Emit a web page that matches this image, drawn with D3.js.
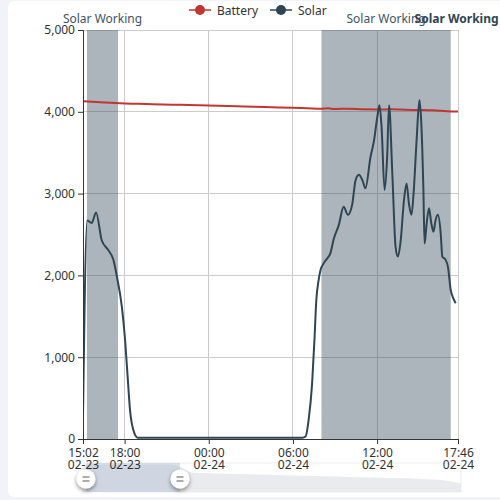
<!DOCTYPE html>
<html><head><meta charset="utf-8">
<script src="https://cdn.jsdelivr.net/npm/d3@7"></script>
<style>
html,body{margin:0;padding:0;background:#f2f3f8;}
svg{display:block;}
text{font-family:"Noto Sans",sans-serif;}
</style></head>
<body>
<svg id="chart" width="500" height="500"></svg>
<script>
// ---------- data ----------
const solarTimes = ["02-23 15:02","02-23 15:20","02-23 15:39","02-23 15:58","02-23 16:22","02-23 16:50","02-23 17:12","02-23 17:27","02-23 17:48","02-23 18:02","02-23 18:13","02-23 18:23","02-23 18:42","02-23 18:58","02-23 21:00","02-24 00:00","02-24 03:00","02-24 06:40","02-24 06:54","02-24 07:07","02-24 07:22","02-24 07:32","02-24 07:40","02-24 07:50","02-24 07:58","02-24 08:12","02-24 08:27","02-24 08:40","02-24 08:55","02-24 09:16","02-24 09:37","02-24 09:55","02-24 10:13","02-24 10:28","02-24 10:42","02-24 10:57","02-24 11:10","02-24 11:32","02-24 11:46","02-24 12:01","02-24 12:10","02-24 12:19","02-24 12:32","02-24 12:43","02-24 12:51","02-24 13:05","02-24 13:19","02-24 13:29","02-24 13:40","02-24 13:55","02-24 14:06","02-24 14:16","02-24 14:27","02-24 14:37","02-24 14:49","02-24 15:01","02-24 15:09","02-24 15:18","02-24 15:23","02-24 15:32","02-24 15:42","02-24 15:52","02-24 16:01","02-24 16:10","02-24 16:20","02-24 16:32","02-24 16:39","02-24 16:53","02-24 17:03","02-24 17:15","02-24 17:26","02-24 17:36"];
const solarValues = [280,2670,2640,2770,2430,2310,2190,1985,1620,1210,760,355,70,15,15,15,15,15,30,230,680,1210,1700,1945,2065,2150,2210,2270,2450,2615,2840,2740,2860,3165,3230,3165,3065,3450,3635,3940,4080,3820,3045,3450,4080,3250,2350,2230,2400,2920,3125,2880,2740,3045,3655,4145,3860,3045,2390,2635,2820,2635,2535,2675,2740,2515,2230,2190,2105,1820,1720,1660];

const batteryTimes = ["02-23 15:02","02-23 16:00","02-23 17:00","02-23 18:00","02-23 19:00","02-23 20:00","02-23 22:00","02-24 00:00","02-24 02:00","02-24 04:00","02-24 06:00","02-24 07:00","02-24 08:00","02-24 08:30","02-24 09:00","02-24 10:00","02-24 11:00","02-24 12:00","02-24 13:00","02-24 14:00","02-24 15:00","02-24 16:00","02-24 17:00","02-24 17:46"];
const batteryValues = [4130,4120,4110,4100,4097,4092,4085,4077,4068,4058,4048,4043,4036,4042,4035,4038,4030,4028,4030,4025,4022,4018,4008,4005];

const markAreaStarts = ["02-23 15:19","02-24 08:02","02-24 17:40"];
const markAreaEnds   = ["02-23 17:32","02-24 17:15","02-24 17:40"];
const markAreaLabels = ["Solar Working","Solar Working","Solar Working"];
const markAreaBold   = [false,false,true];

const xTickTimes  = ["02-23 15:02","02-23 18:00","02-24 00:00","02-24 06:00","02-24 12:00","02-24 17:46"];
const yTickValues = [0,1000,2000,3000,4000,5000];

const seriesNames  = ["Battery","Solar"];
const seriesColors = ["#c23531","#2f4554"];

// slider data shadow (relative heights 0..1 across the full range)
const shadowValues = [0.95,0.95,0.95,0.95,0.95,0.66,0.64,0.62,0.6,0.58,0.56,0.54,0.52,0.5,0.48,0.46,0.42,0.3];

// ---------- drawing ----------
const parse = d3.timeParse("%m-%d %H:%M");
const svg = d3.select("#chart");
const defs = svg.append("defs");

svg.append("rect").attr("x",8).attr("y",1).attr("width",500).attr("height",496)
  .attr("rx",6).attr("fill","#fff");

// data zoom slider (drawn first so axis labels sit over it)
const sL=83,sR=461,sT=463,sB=492;
const sx = d3.scaleLinear().domain([0,shadowValues.length-1]).range([sL,sR]);
const sy = d3.scaleLinear().domain([0,1]).range([sB,sT]);
const f = defs.append("filter").attr("id","sh").attr("x","-50%").attr("y","-50%").attr("width","200%").attr("height","200%");
f.append("feDropShadow").attr("dx",0).attr("dy",2).attr("stdDeviation",2).attr("flood-color","#000").attr("flood-opacity",0.45);
const sg = svg.append("g");
sg.append("rect").attr("x",sL).attr("y",sT).attr("width",sR-sL).attr("height",sB-sT)
  .attr("fill","none").attr("stroke","#eee");
sg.append("path").datum(shadowValues)
  .attr("d",d3.area().x((d,i)=>sx(i)).y0(sB).y1(d=>sy(d)).curve(d3.curveMonotoneX))
  .attr("fill","#e9ebee");
const h1=86,h2=180;
sg.append("rect").attr("x",h1).attr("y",sT).attr("width",h2-h1).attr("height",sB-sT)
  .attr("fill","#a7b7cc").attr("fill-opacity",0.4);

const L=83,R=458,T=30,B=439;
const x = d3.scaleTime().domain([parse(xTickTimes[0]), parse(xTickTimes[xTickTimes.length-1])]).range([L,R]);
const y = d3.scaleLinear().domain([0,5000]).range([B,T]);

// grid
const g = svg.append("g");
g.selectAll(".hg").data(yTickValues.filter(v=>v>0)).join("line")
  .attr("x1",L).attr("x2",R).attr("y1",d=>y(d)).attr("y2",d=>y(d))
  .attr("stroke","#ccc").attr("stroke-width",1).attr("shape-rendering","crispEdges");
g.selectAll(".vg").data(xTickTimes.slice(1)).join("line")
  .attr("x1",d=>x(parse(d))).attr("x2",d=>x(parse(d))).attr("y1",T).attr("y2",B)
  .attr("stroke","#ccc").attr("stroke-width",1).attr("shape-rendering","crispEdges");

// mark areas
const areas = markAreaStarts.map((s,i)=>({s:parse(s),e:parse(markAreaEnds[i]),label:markAreaLabels[i],bold:markAreaBold[i]}));
svg.append("g").selectAll("rect").data(areas).join("rect")
  .attr("x",d=>x(d.s)).attr("width",d=>Math.max(0,x(d.e)-x(d.s)))
  .attr("y",T).attr("height",B-T).attr("fill","#2f4554").attr("fill-opacity",0.4);
svg.append("g").selectAll("text").data(areas).join("text")
  .attr("x",d=>(x(d.s)+x(d.e))/2).attr("y",T-7).attr("text-anchor","middle")
  .attr("font-size",12).attr("fill",d=>d.bold?"#2f4554":"#3d5566")
  .attr("font-weight",d=>d.bold?"bold":"normal").text(d=>d.label);

// clip
svg.append("clipPath").attr("id","clip").append("rect").attr("x",L).attr("y",T-5).attr("width",R-L).attr("height",B-T+10);

const line = d3.line().x(d=>x(d.t)).y(d=>y(d.v)).curve(d3.curveMonotoneX);
const battery = batteryTimes.map((t,i)=>({t:parse(t),v:batteryValues[i]}));
const solar = solarTimes.map((t,i)=>({t:parse(t),v:solarValues[i]}));
const lg = svg.append("g").attr("clip-path","url(#clip)");
lg.append("path").datum(battery).attr("d",line).attr("fill","none").attr("stroke",seriesColors[0]).attr("stroke-width",2);
lg.append("path").datum(solar).attr("d",line).attr("fill","none").attr("stroke",seriesColors[1]).attr("stroke-width",2);

// axes
const yAxis = svg.append("g").attr("transform",`translate(${L},0)`)
  .call(d3.axisLeft(y).tickValues(yTickValues).tickSize(5).tickPadding(3).tickFormat(d3.format(",")));
yAxis.select(".domain").attr("stroke","#333");
yAxis.selectAll(".tick line").attr("stroke","#333");
yAxis.selectAll("text").attr("font-size",12).attr("fill","#333").attr("font-family","'Noto Sans',sans-serif");

const xAxis = svg.append("g").attr("transform",`translate(0,${B})`)
  .call(d3.axisBottom(x).tickValues(xTickTimes.map(parse)).tickSize(5).tickFormat(()=>""));
xAxis.select(".domain").attr("stroke","#333");
xAxis.selectAll(".tick line").attr("stroke","#333");
const fmtT = d3.timeFormat("%H:%M"), fmtD = d3.timeFormat("%m-%d");
xAxis.selectAll(".tick").each(function(d){
  const t = d3.select(this).select("text").attr("font-size",12).attr("fill","#333")
    .attr("font-family","'Noto Sans',sans-serif").attr("y",0).attr("dy",null);
  t.append("tspan").attr("x",0).attr("y",18).text(fmtT(d));
  t.append("tspan").attr("x",0).attr("y",30).text(fmtD(d));
});

// slider handles on top
[h1,h2].forEach(hx=>{
  const hg = svg.append("g").attr("transform",`translate(${hx},479)`);
  hg.append("circle").attr("r",9.5).attr("fill","#fff").attr("filter","url(#sh)");
  hg.append("line").attr("x1",-3.5).attr("x2",3.5).attr("y1",-2).attr("y2",-2).attr("stroke","#777").attr("stroke-width",1.2);
  hg.append("line").attr("x1",-3.5).attr("x2",3.5).attr("y1",2).attr("y2",2).attr("stroke","#777").attr("stroke-width",1.2);
});

// legend
const leg = svg.append("g");
const legX = [189,270];
seriesNames.forEach((n,i)=>{
  leg.append("line").attr("x1",legX[i]).attr("x2",legX[i]+22).attr("y1",10).attr("y2",10)
    .attr("stroke",seriesColors[i]).attr("stroke-width",2).attr("stroke-opacity",0.75);
  leg.append("circle").attr("cx",legX[i]+11).attr("cy",10).attr("r",5).attr("fill",seriesColors[i]);
  leg.append("text").attr("x",legX[i]+28).attr("y",14.5).attr("font-size",12).attr("fill","#333").text(n);
});
</script>
</body></html>
